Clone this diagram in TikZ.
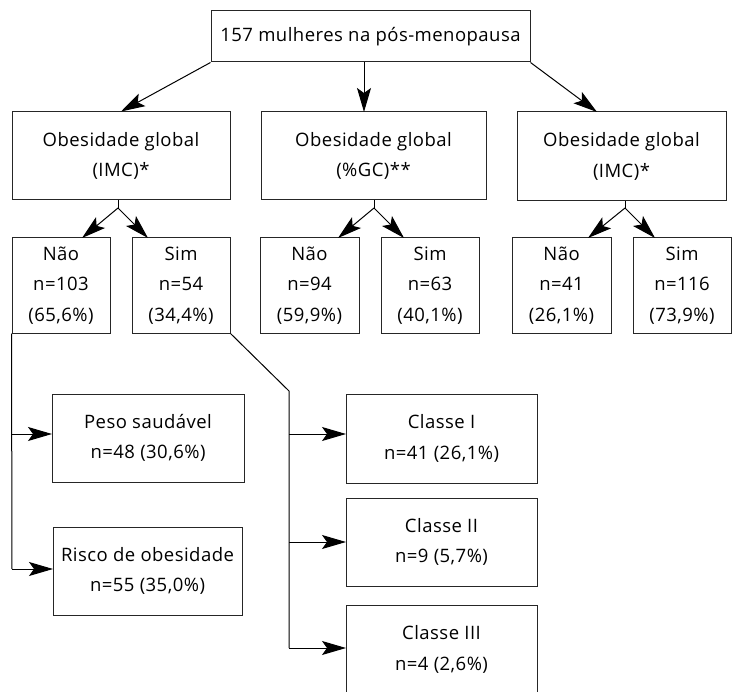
\documentclass[tikz,border=0pt]{standalone}
\usepackage{fontspec}
\setmainfont[LetterSpace=2.5]{Open Sans}
\usetikzlibrary{arrows.meta}
\begin{document}
\begin{tikzpicture}[x=1pt,y=1pt,
  box/.style={draw=black!85,line width=1pt,inner sep=0pt,align=center,
    font=\fontsize{18.5}{30.5}\selectfont},
  conn/.style={line width=1pt},
  arr/.style={line width=1pt,-{Stealth[length=24pt,width=14pt,inset=5pt]}}]
\useasboundingbox (0,0) rectangle (738,-692);
% boxes
\node[box,minimum width=319pt,minimum height=51pt] (top) at (370.5,-36.5) {157 mulheres na pós-menopausa};
\node[box,minimum width=218pt,minimum height=88pt] (b1) at (121,-156) {Obesidade global\\(IMC)*};
\node[box,minimum width=225pt,minimum height=88pt] (b2) at (373.5,-156) {Obesidade global\\(\%GC)**};
\node[box,minimum width=209pt,minimum height=89pt] (b3) at (621.5,-156.5) {Obesidade global\\(IMC)*};
\node[box,minimum width=98pt,minimum height=95pt] (nao1) at (61,-285.5) {Não\\n=103\\(65,6\%)};
\node[box,minimum width=98pt,minimum height=95pt] (sim1) at (181,-285.5) {Sim\\n=54\\(34,4\%)};
\node[box,minimum width=99pt,minimum height=95pt] (nao2) at (309.5,-285.5) {Não\\n=94\\(59,9\%)};
\node[box,minimum width=98pt,minimum height=95pt] (sim2) at (430,-285.5) {Sim\\n=63\\(40,1\%)};
\node[box,minimum width=99pt,minimum height=95pt] (nao3) at (561.5,-285.5) {Não\\n=41\\(26,1\%)};
\node[box,minimum width=98pt,minimum height=95pt] (sim3) at (682,-285.5) {Sim\\n=116\\(73,9\%)};
\node[box,minimum width=192pt,minimum height=88pt] (peso) at (148,-438) {Peso saudável\\n=48 (30,6\%)};
\node[box,minimum width=189pt,minimum height=88pt] (risco) at (147.5,-571) {Risco de obesidade\\n=55 (35,0\%)};
\node[box,minimum width=191pt,minimum height=89pt] (c1) at (441.5,-438.5) {Classe I\\n=41 (26,1\%)};
\node[box,minimum width=191pt,minimum height=88pt] (c2) at (441.5,-542) {Classe II\\n=9 (5,7\%)};
\node[box,minimum width=191pt,minimum height=89pt] (c3) at (441.5,-649.5) {Classe III\\n=4 (2,6\%)};
% coordinates
\coordinate (t2s) at (364,-62);
\coordinate (t2e) at (364,-112);
\coordinate (t3e) at (597,-112);
\coordinate (s1) at (118,-208);
\coordinate (s2) at (374,-208);
\coordinate (s3) at (625,-208);
\coordinate (tn1) at (82,-238);
\coordinate (ts1) at (148,-238);
\coordinate (tn2) at (338,-238);
\coordinate (ts2) at (404,-238);
\coordinate (tn3) at (588,-238);
\coordinate (ts3) at (655,-238);
\coordinate (va) at (12,-434);
\coordinate (vb) at (12,-569);
\coordinate (pa) at (52,-434);
\coordinate (ra) at (53,-569);
\coordinate (bend) at (289,-391);
\coordinate (ha) at (289,-434);
\coordinate (hb) at (289,-542);
\coordinate (hc) at (289,-648);
\coordinate (ca) at (346,-434);
\coordinate (cb) at (346,-542);
\coordinate (cc) at (346,-648);
% top arrows
\draw[arr] (top.south west) -- (b1.north);
\draw[arr] (t2s) -- (t2e);
\draw[arr] (top.south east) -- (t3e);
% splits
\draw[conn] (b1.south -| s1) -- (s1);
\draw[arr] (s1) -- (tn1);
\draw[arr] (s1) -- (ts1);
\draw[conn] (b2.south -| s2) -- (s2);
\draw[arr] (s2) -- (tn2);
\draw[arr] (s2) -- (ts2);
\draw[conn] (b3.south -| s3) -- (s3);
\draw[arr] (s3) -- (tn3);
\draw[arr] (s3) -- (ts3);
% Nao branch
\draw[conn] (nao1.south west) -- (vb);
\draw[arr] (va) -- (pa);
\draw[arr] (vb) -- (ra);
% Sim branch
\draw[conn] (sim1.south east) -- (bend) -- (hc);
\draw[arr] (ha) -- (ca);
\draw[arr] (hb) -- (cb);
\draw[arr] (hc) -- (cc);
\end{tikzpicture}
\end{document}
